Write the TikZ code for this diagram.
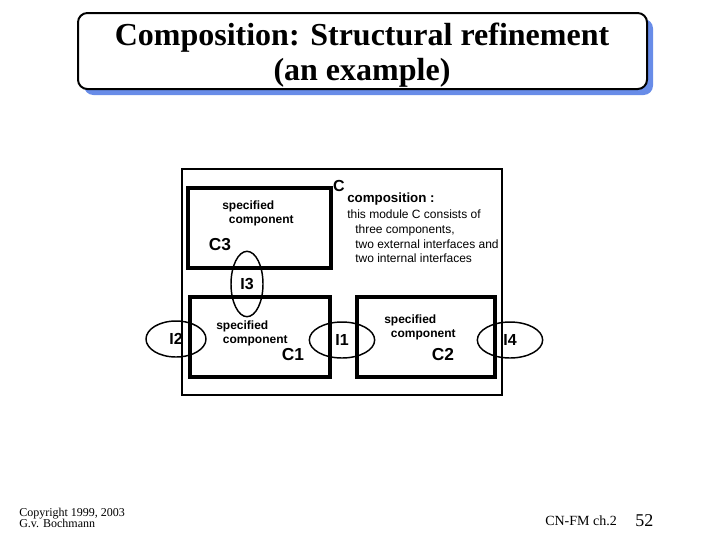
\documentclass[tikz,border=0pt]{standalone}
\usepackage{fontspec}
\setmainfont{Liberation Serif}
\setsansfont{Liberation Sans}
\usepackage{tikz}
\usetikzlibrary{shapes.geometric, positioning}
\usepackage{xcolor}
\definecolor{shadowblue}{RGB}{104, 140, 232}

\tikzset{
  modbox/.style={draw, line width=1.7pt},
  compbox/.style={draw, line width=2.6pt},
  iface/.style={draw, ellipse, line width=1.1pt, inner sep=0pt,
    font=\sffamily\bfseries\fontsize{12}{14}\selectfont},
  spec/.style={font=\sffamily\bfseries\fontsize{9}{10.5}\selectfont,
    align=left, anchor=north west, inner sep=0pt},
  cname/.style={font=\sffamily\bfseries\fontsize{13}{15}\selectfont, inner sep=0pt},
}

\begin{document}
\begin{tikzpicture}[x=0.75pt, y=-0.75pt]
  \useasboundingbox (0,0) rectangle (720,540);
  % title
  \fill[shadowblue, rounded corners=7pt] (84,19) rectangle (653,95);
  \draw[line width=1.5pt, fill=white, rounded corners=7pt] (78,13) rectangle (647,89);
  \node[font=\bfseries\fontsize{24}{26}\selectfont, align=center] (title) at (362,55)
    {Composition: Structural refinement\\(an example)};

  % module C and its components
  \draw[modbox] (182,169) rectangle (502,395);
  \draw[compbox] (188,188) rectangle (331,268);
  \draw[compbox] (190,297) rectangle (330,377);
  \draw[compbox] (357,297) rectangle (495,377);

  \node[spec] (c3spec) at (222,201) {specified\\\hspace*{5pt}component};
  \node[cname] (c3) at (220,245) {C3};
  \node[spec] (c1spec) at (216,321) {specified\\\hspace*{5pt}component};
  \node[cname] (c1) at (293,355) {C1};
  \node[spec] (c2spec) at (384,315) {specified\\\hspace*{5pt}component};
  \node[cname] (c2) at (443,355) {C2};

  \node[font=\sffamily\bfseries\fontsize{12}{14}\selectfont, inner sep=0pt] (cname) at (339,186) {C};
  \node[font=\sffamily\bfseries\fontsize{10}{12}\selectfont, anchor=west, inner sep=0pt] (comp) at (347,199) {composition :};
  \node[font=\sffamily\fontsize{9}{11}\selectfont, align=left, anchor=north west, inner sep=0pt] (desc) at (347,210)
    {this module C consists of\\
     \hspace*{6pt}three components,\\
     \hspace*{6pt}two external interfaces and\\
     \hspace*{6pt}two internal interfaces};

  % interfaces
  \node[iface, minimum width=24pt, minimum height=49pt] (i3) at (247,284) {I3};
  \node[iface, minimum width=45pt, minimum height=27pt] (i2) at (176,339) {I2};
  \node[iface, minimum width=49pt, minimum height=27pt] (i1) at (342,340) {I1};
  \node[iface, minimum width=49pt, minimum height=27pt] (i4) at (510,340) {I4};

  % footer
  \node[font=\fontsize{9}{8.5}\selectfont, align=left, anchor=north west, inner sep=0pt] (copy) at (19,508)
    {Copyright 1999, 2003\\G.v. Bochmann};
  \node[font=\fontsize{10.5}{12}\selectfont, anchor=base west, inner sep=0pt] (chap) at (545,525) {CN-FM ch.2};
  \node[font=\fontsize{13.5}{15}\selectfont, anchor=base west, inner sep=0pt] (page) at (635,526) {52};
\end{tikzpicture}
\end{document}
